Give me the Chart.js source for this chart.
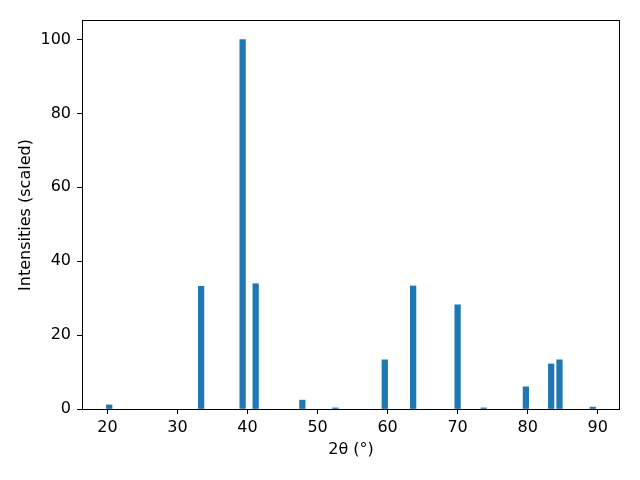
<!DOCTYPE html>
<html>
<head>
<meta charset="utf-8">
<script src="https://cdn.jsdelivr.net/npm/chart.js@4.4.1/dist/chart.umd.min.js"></script>
<style>
  html, body { margin: 0; padding: 0; background: #fff; }
  #wrap { width: 640px; height: 480px; }
</style>
</head>
<body>
<div id="wrap"><canvas id="grafico"></canvas></div>
<script>
// picos do difratograma (2theta em graus, intensidade relativa)
const twoTheta = [20.25, 33.37, 39.3, 41.16, 47.83, 52.55, 59.6, 63.65, 70.0, 73.72, 79.75, 83.36, 84.55, 89.3];
const intensities = [1.1, 33.2, 100, 33.9, 2.4, 0.3, 13.3, 33.3, 28.2, 0.3, 6.0, 12.2, 13.3, 0.5];
const xTicks = [20, 30, 40, 50, 60, 70, 80, 90];
const yTicks = [0, 20, 40, 60, 80, 100];

Chart.defaults.font.family = "'DejaVu Sans', sans-serif";
Chart.defaults.font.size = 16;
Chart.defaults.color = "#000";

// moldura completa do eixo (estilo matplotlib)
const moldura = {
  id: "moldura",
  afterDraw(chart) {
    const { ctx, chartArea: a } = chart;
    ctx.save();
    ctx.strokeStyle = "#000";
    ctx.lineWidth = 1;
    ctx.strokeRect(a.left + 0.5, a.top - 0.5, a.right - a.left - 1, a.bottom - a.top + 1);
    ctx.restore();
  },
};

let chartInstance;

chartInstance = new Chart(document.getElementById("grafico"), {
  type: "bar",
  data: {
    datasets: [
      {
        label: "Intensities",
        data: twoTheta.map((t, i) => ({ x: t, y: intensities[i] })),
        backgroundColor: "#1f77b4",
        borderWidth: 0,
        barThickness: 5.6,
      },
    ],
  },
  options: {
    responsive: true,
    maintainAspectRatio: false,
    animation: false,
    layout: { padding: { left: 0, right: 20, top: 21, bottom: 0 } },
    plugins: { legend: { display: false }, tooltip: { enabled: false } },
    scales: {
      x: {
        type: "linear",
        min: 16.36,
        max: 93.19,
        offset: false,
        afterFit: (s) => { s.height = 71; },
        afterBuildTicks: (s) => { s.ticks = xTicks.map((v) => ({ value: v })); },
        grid: { offset: false, drawOnChartArea: false, color: "#000", tickColor: "#000", tickLength: 5 },
        border: { display: false },
        ticks: { padding: 4, maxRotation: 0, autoSkip: false },
        title: { display: true, text: "2θ (°)", padding: { top: 0, bottom: 21 } },
      },
      y: {
        min: 0,
        max: 105,
        afterFit: (s) => { s.width = 82; },
        afterBuildTicks: (s) => { s.ticks = yTicks.map((v) => ({ value: v })); },
        grid: { drawOnChartArea: false, color: "#000", tickColor: "#000", tickLength: 5 },
        border: { display: false },
        ticks: { padding: 6 },
        title: { display: true, text: "Intensities (scaled)", padding: { top: 16, bottom: 0 } },
      },
    },
  },
  plugins: [moldura],
});
</script>
</body>
</html>
